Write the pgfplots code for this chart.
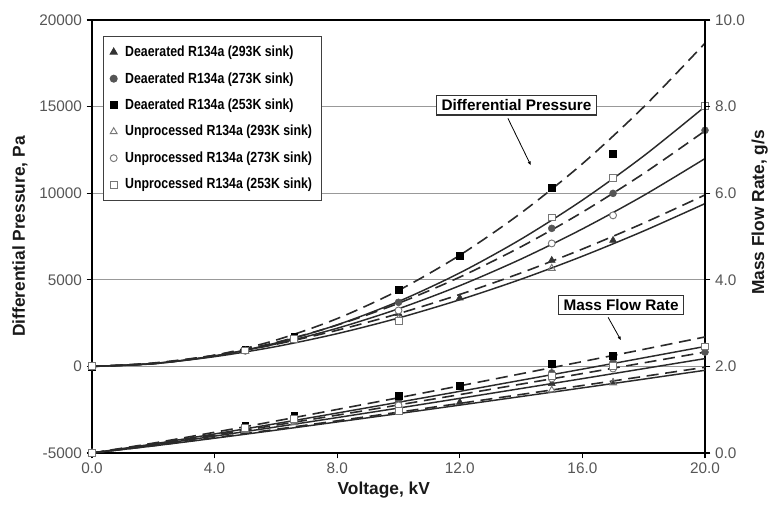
\documentclass[border=0pt]{standalone}
\usepackage{fontspec}
\setmainfont{Liberation Sans}
\newfontfamily\legfont[FakeStretch=0.84]{Liberation Sans}
\usepackage{pgfplots}
\pgfplotsset{compat=1.18}
\usetikzlibrary{arrows.meta,calc}
\definecolor{ln}{HTML}{2A2A2A}
\definecolor{mk}{HTML}{333333}
\definecolor{mg}{HTML}{555555}
\definecolor{om}{HTML}{777777}
\definecolor{tk}{HTML}{555555}
\newcommand{\legtxt}[1]{\hspace{4pt}#1}
\begin{document}
\begin{tikzpicture}
\pgfplotsset{
  base/.style={scale only axis, width=459.75pt, height=324.75pt, xmin=0, xmax=20,
    clip=false, axis line style={line width=1.3pt, black},
    major tick style={line width=0.8pt, black}, major tick length=4pt,
    tick align=outside, scaled y ticks=false, scaled x ticks=false,
    tick label style={font=\fontsize{11.5}{13}\selectfont, text=tk},
    /pgf/number format/assume math mode=true},
  dline/.style={ln, line width=1.2pt, dash pattern=on 9pt off 5pt, smooth, no marks},
  sline/.style={ln, line width=1.1pt, smooth, no marks},
  ftri/.style={only marks, mark=triangle*, mark size=3pt, mark options={fill=mk, draw=mk}},
  fcir/.style={only marks, mark=*, mark size=2.6pt, mark options={fill=mg, draw=mg}},
  fsq/.style={only marks, mark=square*, mark size=2.6pt, mark options={fill=black, draw=black}},
  otri/.style={only marks, mark=triangle, mark size=3pt, mark options={draw=om, fill=white, line width=0.7pt}},
  ocir/.style={only marks, mark=*, mark size=2.6pt, mark options={draw=om, fill=white, line width=0.7pt}},
  osq/.style={only marks, mark=square*, mark size=2.6pt, mark options={draw=om, fill=white, line width=0.7pt}},
}
\begin{axis}[base,
  ymin=-5000, ymax=20000,
  xtick={0,4,8,12,16,20}, xticklabels={0.0,4.0,8.0,12.0,16.0,20.0},
  ytick={-5000,0,5000,10000,15000,20000},
  yticklabels={-5000,0,5000,10000,15000,20000},
  ymajorgrids, grid style={line width=0.9pt, black!40},
  xtick pos=bottom, ytick pos=left,
  legend style={at={(0.018,0.963)}, anchor=north west, draw=black!75, line width=0.8pt,
    font=\legfont\bfseries\fontsize{11}{13}\selectfont, row sep=6.4pt, inner ysep=5pt, inner xsep=5pt},
  legend cell align=left,
]
\coordinate (SW) at (rel axis cs:0,0);
\coordinate (NE) at (rel axis cs:1,1);
% pressure markers (legend)
\addplot[ftri] coordinates {(0,0)(5,900)(6.6,1580)(10,3050)(12,3950)(15,6120)(17,7275)};
\addlegendentry{\legtxt{Deaerated R134a (293K sink)}}
\addplot[fcir] coordinates {(0,0)(5,950)(6.6,1650)(10,3700)(15,7970)(17,9990)(20,13630)};
\addlegendentry{\legtxt{Deaerated R134a (273K sink)}}
\addplot[fsq] coordinates {(0,0)(5,980)(6.6,1720)(10,4450)(12,6400)(15,10330)(17,12300)};
\addlegendentry{\legtxt{Deaerated R134a (253K sink)}}
\addplot[otri] coordinates {(0,0)(5,870)(6.6,1520)(10,2750)(15,5660)};
\addlegendentry{\legtxt{Unprocessed R134a (293K sink)}}
\addplot[ocir] coordinates {(0,0)(5,900)(6.6,1560)(10,3230)(15,7100)(17,8720)};
\addlegendentry{\legtxt{Unprocessed R134a (273K sink)}}
\addplot[osq] coordinates {(0,0)(5,920)(6.6,1600)(10,2650)(15,8600)(17,10900)(20,15050)};
\addlegendentry{\legtxt{Unprocessed R134a (253K sink)}}
% pressure trend lines
\addplot[dline, forget plot] coordinates {(0,0)(2,150)(4,641)(6,1518)(8,2760)(10,4389)(12,6420)(14,8860)(16,11700)(18,14980)(20,18660)};
\addplot[sline, forget plot] coordinates {(0,0)(2,150)(4,600)(6,1350)(8,2400)(10,3750)(12,5400)(14,7350)(16,9600)(18,12150)(20,15000)};
\addplot[dline, forget plot] coordinates {(0,0)(2,171)(4,639)(6,1382)(8,2387)(10,3645)(12,5155)(14,6908)(16,8905)(18,11140)(20,13600)};
\addplot[sline, forget plot] coordinates {(0,0)(2,169)(4,611)(6,1293)(8,2203)(10,3328)(12,4662)(14,6200)(16,7938)(18,9870)(20,12000)};
\addplot[dline, forget plot] coordinates {(0,0)(2,198)(4,642)(6,1278)(8,2086)(10,3047)(12,4153)(14,5397)(16,6775)(18,8276)(20,9900)};
\addplot[sline, forget plot] coordinates {(0,0)(2,167)(4,562)(6,1143)(8,1891)(10,2795)(12,3848)(14,5035)(16,6361)(18,7818)(20,9400)};
% annotations
\node[draw=black!80, line width=0.8pt, fill=white, inner xsep=3.5pt, inner ysep=3pt,
  font=\bfseries\fontsize{11.5}{13}\selectfont] at (axis cs:13.85,15070) {Differential Pressure};
\draw[line width=0.6pt, -{Latex[length=3pt,width=2.5pt]}] (axis cs:13.57,14320) -- (axis cs:14.32,11600);
\node[draw=black!80, line width=0.8pt, fill=white, inner xsep=3.5pt, inner ysep=3pt,
  font=\bfseries\fontsize{11.5}{13}\selectfont] at (axis cs:17.26,3550) {Mass Flow Rate};
\draw[line width=0.6pt, -{Latex[length=3pt,width=2.5pt]}] (axis cs:16.84,2830) -- (axis cs:17.26,1500);
\end{axis}
\begin{axis}[base,
  ymin=0, ymax=10,
  axis y line*=right, axis x line=none,
  ytick={0,2,4,6,8,10},
  yticklabel style={/pgf/number format/.cd, fixed, fixed zerofill, precision=1},
]
% mass flow trend lines
\addplot[dline] coordinates {(0,0)(2,0.228)(4,0.479)(6,0.739)(8,1.006)(10,1.276)(12,1.551)(14,1.830)(16,2.111)(18,2.394)(20,2.68)};
\addplot[sline] coordinates {(0,0)(2,0.209)(4,0.440)(6,0.678)(8,0.923)(10,1.172)(12,1.424)(14,1.680)(16,1.937)(18,2.198)(20,2.46)};
\addplot[dline] coordinates {(0,0)(2,0.198)(4,0.416)(6,0.643)(8,0.874)(10,1.110)(12,1.349)(14,1.591)(16,1.835)(18,2.082)(20,2.33)};
\addplot[sline] coordinates {(0,0)(2,0.186)(4,0.390)(6,0.601)(8,0.818)(10,1.038)(12,1.262)(14,1.489)(16,1.717)(18,1.948)(20,2.18)};
\addplot[dline] coordinates {(0,0)(2,0.168)(4,0.354)(6,0.546)(8,0.743)(10,0.943)(12,1.146)(14,1.352)(16,1.559)(18,1.769)(20,1.98)};
\addplot[sline] coordinates {(0,0)(2,0.163)(4,0.341)(6,0.527)(8,0.717)(10,0.910)(12,1.106)(14,1.304)(16,1.504)(18,1.706)(20,1.91)};
% mass flow markers
\addplot[ftri] coordinates {(0,0)(5,0.54)(6.6,0.74)(10,1.07)(12,1.17)(15,1.6)(17,1.63)};
\addplot[fcir] coordinates {(0,0)(5,0.58)(6.6,0.8)(10,1.2)(15,1.85)(17,2.1)(20,2.33)};
\addplot[fsq] coordinates {(0,0)(5,0.62)(6.6,0.86)(10,1.33)(12,1.56)(15,2.06)(17,2.25)};
\addplot[otri] coordinates {(0,0)(5,0.52)(6.6,0.7)(10,0.98)(15,1.45)(17,1.62)};
\addplot[ocir] coordinates {(0,0)(5,0.56)(6.6,0.76)(10,1.1)(15,1.72)(17,1.95)(20,2.46)};
\addplot[osq] coordinates {(0,0)(5,0.57)(6.6,0.78)(10,0.98)(15,1.78)(17,2.02)(20,2.46)};
\end{axis}
\node[rotate=90, font=\bfseries\fontsize{13}{15}\selectfont, text=black!90] at ($(SW)!0.5!(SW|-NE)+(-54pt,0)$) {Differential Pressure, Pa};
\node[rotate=90, font=\bfseries\fontsize{13}{15}\selectfont, text=black!90] at ($(NE|-SW)!0.5!(NE)+(41pt,18pt)$) {Mass Flow Rate, g/s};
\node[font=\bfseries\fontsize{13}{15}\selectfont, text=black!90] at ($(SW)!0.476!(NE|-SW)+(0,-27.75pt)$) {Voltage, kV};
\pgfresetboundingbox
\path[use as bounding box] ($(SW)+(-69pt,-39.75pt)$) rectangle ($(NE)+(51pt,15pt)$);
\end{tikzpicture}
\end{document}
